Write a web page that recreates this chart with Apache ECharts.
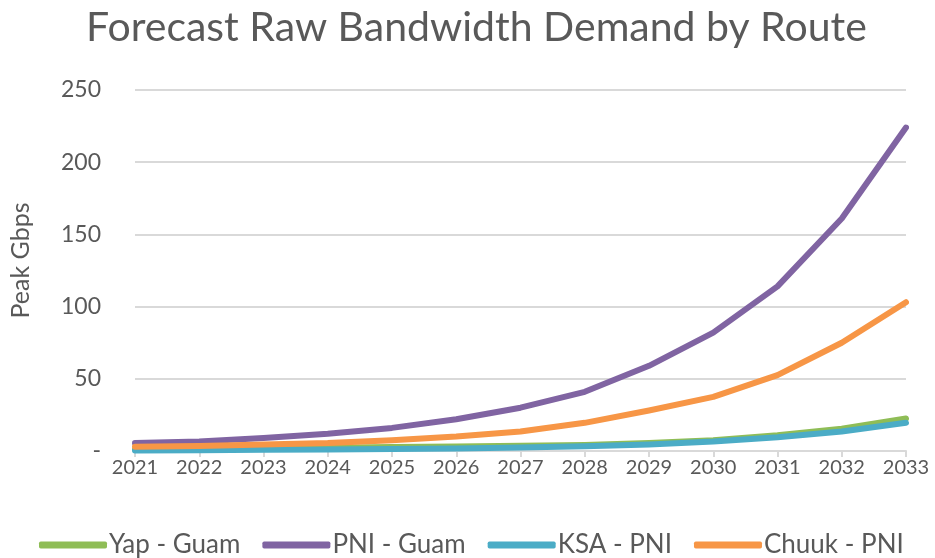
<!DOCTYPE html>
<html>
<head>
<meta charset="utf-8">
<script src="https://cdn.jsdelivr.net/npm/echarts@6/dist/echarts.min.js"></script>
<style>
  html, body { margin: 0; padding: 0; background: #fff; }
  #chart { width: 935px; height: 558px; }
</style>
</head>
<body>
<div id="chart"></div>
<script>
// 数据
const years = ['2021', '2022', '2023', '2024', '2025', '2026', '2027', '2028', '2029', '2030', '2031', '2032', '2033'];
const yapGuam = [1.2, 1.5, 1.9, 2.3, 2.8, 3.2, 3.6, 4.2, 5.5, 7.5, 11, 15.5, 22.5];
const pniGuam = [5.5, 6.5, 9, 12, 16, 22, 30, 41, 59, 82, 114, 161, 224];
const ksaPni = [0.4, 0.6, 0.8, 1.1, 1.4, 1.8, 2.4, 3.3, 4.5, 6.5, 9.5, 13.5, 19.5];
const chuukPni = [3, 3.5, 4.5, 5.5, 7.5, 10, 13.5, 19.5, 28, 37.5, 52.5, 75, 103];
const yTicks = [0, 50, 100, 150, 200, 250];

const textColor = '#595959';
const gridColor = '#d9d9d9';
const font = 'Lato, "Open Sans", sans-serif';

const chart = echarts.init(document.getElementById('chart'));

const makeSeries = (name, data, color) => ({
  name,
  type: 'line',
  data,
  smooth: false,
  showSymbol: false,
  symbol: 'none',
  lineStyle: { width: 6, color, cap: 'round', join: 'round' },
  itemStyle: { color }
});

const option = {
  animation: false,
  title: {
    text: 'Forecast Raw Bandwidth Demand by Route',
    left: 81,
    top: 2,
    textStyle: { fontFamily: font, fontSize: 41, fontWeight: 'normal', color: textColor }
  },
  grid: { left: 135, right: 29, top: 90, bottom: 107 },
  xAxis: {
    type: 'category',
    data: years,
    boundaryGap: false,
    axisLine: { lineStyle: { color: gridColor, width: 2 } },
    axisTick: { show: true, inside: false, length: 6, alignWithLabel: true, lineStyle: { color: gridColor, width: 2 } },
    axisLabel: { fontFamily: font, fontSize: 20, color: textColor, margin: 7 }
  },
  yAxis: {
    type: 'value',
    min: yTicks[0],
    max: yTicks[yTicks.length - 1],
    interval: 50,
    name: 'Peak Gbps',
    nameLocation: 'middle',
    nameGap: 102,
    nameTextStyle: { fontFamily: font, fontSize: 25, color: textColor, padding: [0, 0, 0, 20] },
    axisLine: { show: false },
    axisTick: { show: false },
    axisLabel: {
      fontFamily: font, fontSize: 23, color: textColor, margin: 34,
      formatter: v => (v === 0 ? '-' : String(v))
    },
    splitLine: { lineStyle: { color: gridColor, width: 2 } }
  },
  legend: {
    top: 527,
    left: 34,
    itemWidth: 68,
    itemHeight: 7,
    itemGap: 22,
    icon: 'roundRect',
    textStyle: { fontFamily: font, fontSize: 26, color: textColor, padding: [0, 0, 0, -3] }
  },
  series: [
    makeSeries('Yap - Guam', yapGuam, '#8fbd56'),
    makeSeries('PNI - Guam', pniGuam, '#8064a2'),
    makeSeries('KSA - PNI', ksaPni, '#4bacc6'),
    makeSeries('Chuuk - PNI', chuukPni, '#f79646')
  ]
};

chart.setOption(option);
</script>
</body>
</html>
